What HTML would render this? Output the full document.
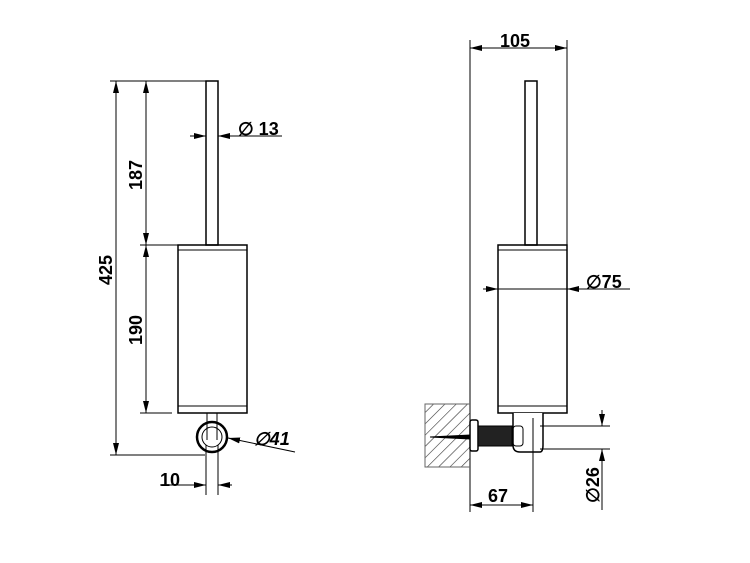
<!DOCTYPE html><html><head><style>body{margin:0;background:#fff}svg{display:block}text{font-family:"Liberation Sans",sans-serif;font-weight:bold;font-size:18px;fill:#000}</style></head><body>
<svg width="750" height="563" viewBox="0 0 750 563" xmlns="http://www.w3.org/2000/svg">
<defs><marker id="a" markerWidth="12" markerHeight="6" refX="12" refY="3" orient="auto-start-reverse" markerUnits="userSpaceOnUse"><path d="M0,0L12,3L0,6z" fill="#000"/></marker>
<pattern id="h" width="8" height="8" patternUnits="userSpaceOnUse" patternTransform="rotate(45)"><line x1="0" y1="0" x2="0" y2="8" stroke="#333" stroke-width="1.2"/></pattern></defs>
<g stroke="#000" fill="none" stroke-width="1">
<rect x="206" y="81" width="12" height="164" stroke-width="1.5"/>
<rect x="178" y="245" width="69" height="168" stroke-width="1.5"/>
<line x1="178" y1="250" x2="247" y2="250"/><line x1="178" y1="406" x2="247" y2="406"/>
<circle cx="212" cy="437" r="15" stroke-width="2.5"/><circle cx="212" cy="437" r="10"/>
<line x1="207" y1="413" x2="207" y2="440"/><line x1="217" y1="413" x2="217" y2="440"/>
<line x1="110" y1="81" x2="218" y2="81"/><line x1="140" y1="245" x2="178" y2="245"/><line x1="140" y1="413" x2="172" y2="413"/><line x1="110" y1="455" x2="205" y2="455"/>
<line x1="116" y1="81" x2="116" y2="455" marker-start="url(#a)" marker-end="url(#a)"/>
<line x1="146" y1="81" x2="146" y2="245" marker-start="url(#a)" marker-end="url(#a)"/>
<line x1="146" y1="245" x2="146" y2="413" marker-start="url(#a)" marker-end="url(#a)"/>
<line x1="190" y1="136" x2="206" y2="136" marker-end="url(#a)"/><line x1="218" y1="136" x2="282" y2="136"/><line x1="234" y1="136" x2="218" y2="136" marker-end="url(#a)"/>
<line x1="295" y1="452" x2="228" y2="438" marker-end="url(#a)"/>
<line x1="206" y1="445" x2="206" y2="495"/><line x1="218" y1="445" x2="218" y2="495"/>
<line x1="192" y1="485" x2="206" y2="485" marker-end="url(#a)"/><line x1="232" y1="485" x2="218" y2="485" marker-end="url(#a)"/><line x1="160" y1="485" x2="192" y2="485"/>
<rect x="525" y="81" width="12" height="164" stroke-width="1.5"/>
<rect x="498" y="245" width="69" height="168" stroke-width="1.5"/>
<line x1="498" y1="250" x2="567" y2="250"/><line x1="498" y1="406" x2="567" y2="406"/>
<line x1="470" y1="40" x2="470" y2="512"/><line x1="567" y1="40" x2="567" y2="245"/>
<line x1="470" y1="48" x2="567" y2="48" marker-start="url(#a)" marker-end="url(#a)"/>
<line x1="483" y1="289" x2="498" y2="289" marker-end="url(#a)"/><line x1="582" y1="289" x2="567" y2="289" marker-end="url(#a)"/><line x1="498" y1="289" x2="630" y2="289"/>
<rect x="425" y="404" width="45" height="63" fill="url(#h)" stroke="none"/>
<path d="M470,404L425,404L425,467L470,467" stroke="#666"/>
<path d="M430,437L470,435L470,439z" fill="#000"/>
<rect x="470" y="420" width="8" height="31" rx="2" stroke-width="1.5" fill="#fff"/>
<rect x="478" y="426" width="34" height="20" fill="#222"/>
<path d="M513,413L513,445Q513,452 520,452L540,452Q543,452 543,445L543,413" stroke-width="1.5" fill="#fff"/>
<rect x="513" y="426" width="10" height="20" rx="3"/>
<line x1="533" y1="418" x2="533" y2="512"/>
<line x1="540" y1="426" x2="610" y2="426"/><line x1="540" y1="449" x2="610" y2="449"/>
<line x1="602" y1="410" x2="602" y2="426" marker-end="url(#a)"/><line x1="602" y1="468" x2="602" y2="449" marker-end="url(#a)"/><line x1="602" y1="449" x2="602" y2="510"/>
<line x1="470" y1="505" x2="533" y2="505" marker-start="url(#a)" marker-end="url(#a)"/>
</g>
<text x="142" y="175" transform="rotate(-90 142 175)" text-anchor="middle">187</text>
<text x="142" y="330" transform="rotate(-90 142 330)" text-anchor="middle">190</text>
<text x="112" y="270" transform="rotate(-90 112 270)" text-anchor="middle">425</text>
<text x="238" y="135">∅ 13</text>
<text x="254" y="445" font-style="italic">∅41</text>
<text x="160" y="486">10</text>
<text x="500" y="47">105</text>
<text x="586" y="288">∅75</text>
<text x="488" y="502">67</text>
<text x="599" y="485" transform="rotate(-90 599 485)" text-anchor="middle">∅26</text>
</svg></body></html>
